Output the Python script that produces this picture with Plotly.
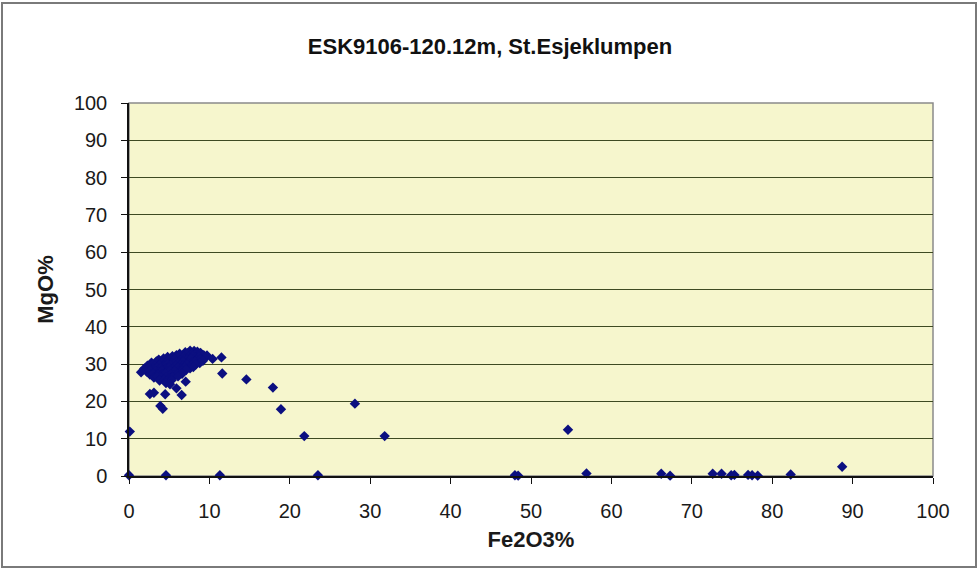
import plotly.graph_objects as go

# Fe2O3 / MgO analyses (wt %), ESK9106 drill core at 120.12 m
fe2o3 = [
    # main serpentinite cluster
    7.0, 7.6, 8.1, 8.5, 8.9,
    5.9, 6.3, 6.9, 7.3, 7.8, 8.2, 8.8, 9.3, 9.7,
    4.8, 5.4, 5.8, 6.2, 6.8, 7.4, 7.9, 8.3, 8.7, 9.4,
    3.7, 4.3, 4.9, 5.2, 5.7, 6.4, 6.9, 7.2, 7.7, 8.4, 8.9, 9.2,
    2.8, 3.4, 3.9, 4.2, 4.7, 5.3, 5.9, 6.2, 6.7, 7.3, 7.9, 8.2, 8.8,
    2.3, 2.9, 3.2, 3.8, 4.4, 4.8, 5.2, 5.8, 6.4, 6.7, 7.2, 7.8, 8.3,
    1.9, 2.5, 3.1, 3.5, 3.9, 4.6, 5.0, 5.4, 6.1, 6.5, 6.9, 7.6, 8.0,
    2.2, 2.6, 3.3, 3.7, 4.1, 4.8, 5.1, 5.7, 6.3, 6.6, 7.1,
    2.6, 3.0, 3.6, 4.2, 4.5, 5.2, 5.6, 6.0, 6.6,
    3.1, 3.5, 4.0, 4.6, 5.0, 5.4, 6.1,
    3.8, 4.4, 4.7, 5.3,
    4.6, 5.1,
    # scattered low-MgO / high-Fe samples
    1.5, 10.4, 11.5, 11.6, 7.05, 5.9, 6.55, 2.6, 3.1, 4.5,
    3.9, 4.2, 0.1,
    14.6, 17.9, 18.9, 28.1, 21.8, 31.8,
    54.6, 88.7,
    # MgO-free samples along the baseline
    0.0, 4.6, 11.3, 23.5, 48.0, 48.4, 56.9, 66.2, 67.3,
    72.6, 73.7, 74.9, 75.3, 77.0, 77.5, 78.2, 82.3,
]
mgo = [
    33.2, 33.6, 33.5, 33.3, 33.0,
    32.4, 32.8, 32.6, 32.9, 32.7, 32.5, 32.8, 32.4, 32.3,
    31.9, 32.1, 31.8, 32.2, 32.0, 31.9, 32.2, 31.8, 32.0, 31.7,
    31.2, 31.5, 31.1, 31.4, 31.3, 31.0, 31.4, 31.2, 31.5, 31.1, 31.3, 30.9,
    30.4, 30.7, 30.3, 30.6, 30.5, 30.2, 30.6, 30.4, 30.7, 30.3, 30.5, 30.6, 30.3,
    29.6, 29.9, 29.5, 29.8, 29.6, 29.9, 29.7, 29.5, 29.8, 29.6, 29.9, 29.7, 29.9,
    28.8, 29.0, 28.7, 29.1, 28.9, 28.8, 29.0, 28.7, 29.0, 28.8, 29.1, 28.9, 29.2,
    28.0, 28.3, 28.1, 27.9, 28.2, 28.0, 28.3, 28.1, 27.9, 28.2, 28.4,
    27.2, 27.4, 27.1, 27.3, 27.5, 27.2, 27.0, 27.3, 27.4,
    26.4, 26.6, 26.3, 26.5, 26.2, 26.4, 26.7,
    25.6, 25.8, 25.4, 25.7,
    24.9, 24.6,
    27.8, 31.4, 31.8, 27.5, 25.3, 23.5, 21.7, 22.0, 22.3, 21.9,
    18.8, 18.0, 11.9,
    25.9, 23.7, 17.9, 19.4, 10.7, 10.7,
    12.4, 2.5,
    0.2, 0.2, 0.2, 0.2, 0.2, 0.1, 0.7, 0.6, 0.1,
    0.6, 0.6, 0.2, 0.3, 0.3, 0.2, 0.1, 0.4,
]

x_ticks = [0, 10, 20, 30, 40, 50, 60, 70, 80, 90, 100]
y_ticks = [0, 10, 20, 30, 40, 50, 60, 70, 80, 90, 100]

FONT = "Liberation Sans, Arial, sans-serif"

fig = go.Figure(
    go.Scatter(
        x=fe2o3,
        y=mgo,
        mode="markers",
        marker=dict(symbol="diamond", size=8, color="#0b0f80", line=dict(width=0)),
        cliponaxis=False,
        showlegend=False,
    )
)

# plot-area border and outer chart frame (paper coordinates)
L, R, T, B = 129, 47, 103, 96
W, H = 980, 572
pw, ph = W - L - R, H - T - B


def px_to_paper(xp, yp):
    return (xp - L) / pw, (H - B - yp) / ph


fx0, fy0 = px_to_paper(2, 567)
fx1, fy1 = px_to_paper(976, 3)

fig.update_layout(
    width=W,
    height=H,
    margin=dict(l=L, r=R, t=T, b=B),
    paper_bgcolor="white",
    plot_bgcolor="#f6f6cd",
    font=dict(family=FONT, color="#1a1a1a", size=20),
    title=dict(
        text="<b>ESK9106-120.12m, St.Esjeklumpen</b>",
        x=0.5,
        xanchor="center",
        y=1 - 46 / H,
        yanchor="middle",
        font=dict(size=22, family=FONT, color="#111111"),
    ),
    shapes=[
        dict(type="rect", xref="paper", yref="paper", x0=0, y0=0, x1=1, y1=1,
             line=dict(color="#8a8a8a", width=1.5), layer="below"),
        dict(type="rect", xref="paper", yref="paper", x0=fx0, y0=fy0, x1=fx1, y1=fy1,
             line=dict(color="#7a7a7a", width=2), layer="below"),
    ],
)

fig.update_xaxes(
    range=[0, 100],
    tickvals=x_ticks,
    ticktext=[str(v) for v in x_ticks],
    showgrid=False,
    zeroline=False,
    showline=True,
    linecolor="#111111",
    linewidth=1.5,
    ticks="outside",
    ticklen=6,
    tickcolor="#111111",
    tickwidth=1.2,
    ticklabelstandoff=10,
    tickfont=dict(size=20),
    title=dict(text="<b>Fe2O3%</b>", font=dict(size=22), standoff=11),
)

fig.update_yaxes(
    range=[0, 100],
    tickvals=y_ticks,
    ticktext=[str(v) for v in y_ticks],
    showgrid=True,
    gridcolor="#3e4a22",
    gridwidth=1.2,
    zeroline=False,
    showline=True,
    linecolor="#111111",
    linewidth=1.5,
    ticks="outside",
    ticklen=6,
    tickcolor="#111111",
    tickwidth=1.2,
    ticklabelstandoff=10,
    tickfont=dict(size=20),
    title=dict(text="<b>MgO%</b>", font=dict(size=22), standoff=14),
)

fig.write_html("out.html")
